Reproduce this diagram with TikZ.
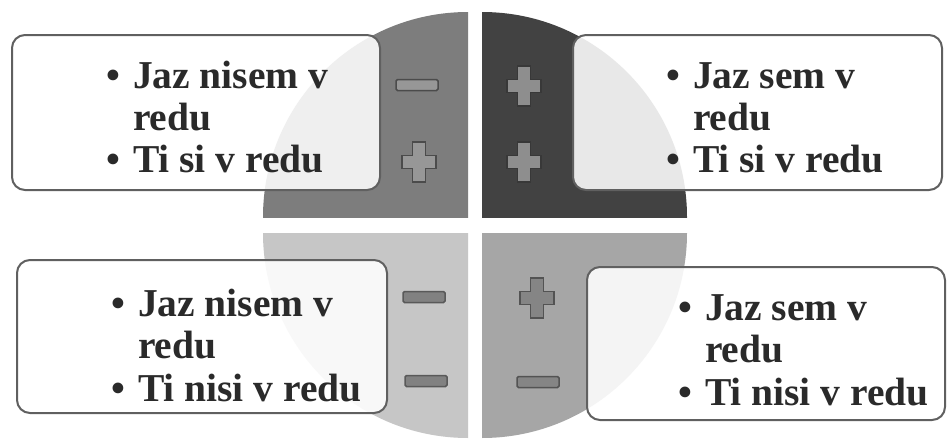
\documentclass[tikz,border=0pt]{standalone}
\usepackage{fontspec}
\setmainfont{Liberation Serif}
\usetikzlibrary{calc}
\definecolor{qtl}{HTML}{7D7D7D}
\definecolor{qtr}{HTML}{424242}
\definecolor{qbl}{HTML}{C6C6C6}
\definecolor{qbr}{HTML}{A6A6A6}
\definecolor{boxline}{HTML}{606060}
\definecolor{txtcol}{HTML}{2A2A2A}
\tikzset{
  box/.style={draw=boxline, line width=2pt, fill=white, fill opacity=0.88, rounded corners=13pt, inner sep=0pt},
  txt/.style={text=txtcol, font=\fontsize{39.5}{42.5}\selectfont\bfseries, inner sep=0pt, anchor=base west},
  plussign/.pic={\path[pic actions] (-6.5,-20) -- (6.5,-20) -- (6.5,-6.5) -- (17,-6.5) -- (17,6.5) -- (6.5,6.5) -- (6.5,20) -- (-6.5,20) -- (-6.5,6.5) -- (-17,6.5) -- (-17,-6.5) -- (-6.5,-6.5) -- cycle;},
  minussign/.pic={\path[pic actions, rounded corners=1.5pt] (-21,-5.5) rectangle (21,5.5);},
}
\newcommand{\bl}{\textbullet}
\begin{document}
\begin{tikzpicture}[x=1pt,y=-1pt]
\fill[white] (0,0) rectangle (951,439);
\useasboundingbox (0,0) rectangle (951,439);
% quadrants
\begin{scope}\clip (263,12) rectangle (468,217); \fill[qtl] (468,217) circle[radius=205pt]; \end{scope}
\begin{scope}\clip (482,12) rectangle (687,217); \fill[qtr] (482,217) circle[radius=205pt]; \end{scope}
\begin{scope}\clip (263,233) rectangle (468,438); \fill[qbl] (468,233) circle[radius=205pt]; \end{scope}
\begin{scope}\clip (482,233) rectangle (687,438); \fill[qbr] (482,233) circle[radius=205pt]; \end{scope}
% signs
\pic[fill=qtl!80!white, draw=qtl!60!black, line width=1.5pt] (s1) at (417,85) {minussign};
\pic[fill=qtl!80!white, draw=qtl!60!black, line width=1.5pt] (s2) at (419,162) {plussign};
\pic[fill=qtr!60!white, draw=qtr!85!black, line width=1.5pt] (s3) at (524,86) {plussign};
\pic[fill=qtr!60!white, draw=qtr!85!black, line width=1.5pt] (s4) at (524,162) {plussign};
\pic[fill=qbl!65!black, draw=qbl!45!black, line width=1.5pt] (s5) at (424,297) {minussign};
\pic[fill=qbl!65!black, draw=qbl!45!black, line width=1.5pt] (s6) at (426,381) {minussign};
\pic[fill=qbr!80!black, draw=qbr!50!black, line width=1.5pt] (s7) at (537,298) {plussign};
\pic[fill=qbr!80!black, draw=qbr!50!black, line width=1.5pt] (s8) at (538,382) {minussign};
% boxes
\node[box, minimum width=368pt, minimum height=155pt] (b1) at (196,112.5) {};
\node[box, minimum width=369pt, minimum height=155pt] (b2) at (757.5,112.5) {};
\node[box, minimum width=370pt, minimum height=153pt] (b3) at (202,336.5) {};
\node[box, minimum width=358pt, minimum height=153pt] (b4) at (766,343.5) {};
% texts
\node[txt] (t1) at (106,88) {\begin{tabular}[t]{@{}l@{\hspace{13pt}}l@{}}\bl & Jaz nisem v\\ & redu\\ \bl & Ti si v redu\end{tabular}};
\node[txt] (t2) at (666,88) {\begin{tabular}[t]{@{}l@{\hspace{13pt}}l@{}}\bl & Jaz sem v\\ & redu\\ \bl & Ti si v redu\end{tabular}};
\node[txt] (t3) at (111,316) {\begin{tabular}[t]{@{}l@{\hspace{13pt}}l@{}}\bl & Jaz nisem v\\ & redu\\ \bl & Ti nisi v redu\end{tabular}};
\node[txt] (t4) at (678,320) {\begin{tabular}[t]{@{}l@{\hspace{13pt}}l@{}}\bl & Jaz sem v\\ & redu\\ \bl & Ti nisi v redu\end{tabular}};
\end{tikzpicture}
\end{document}
